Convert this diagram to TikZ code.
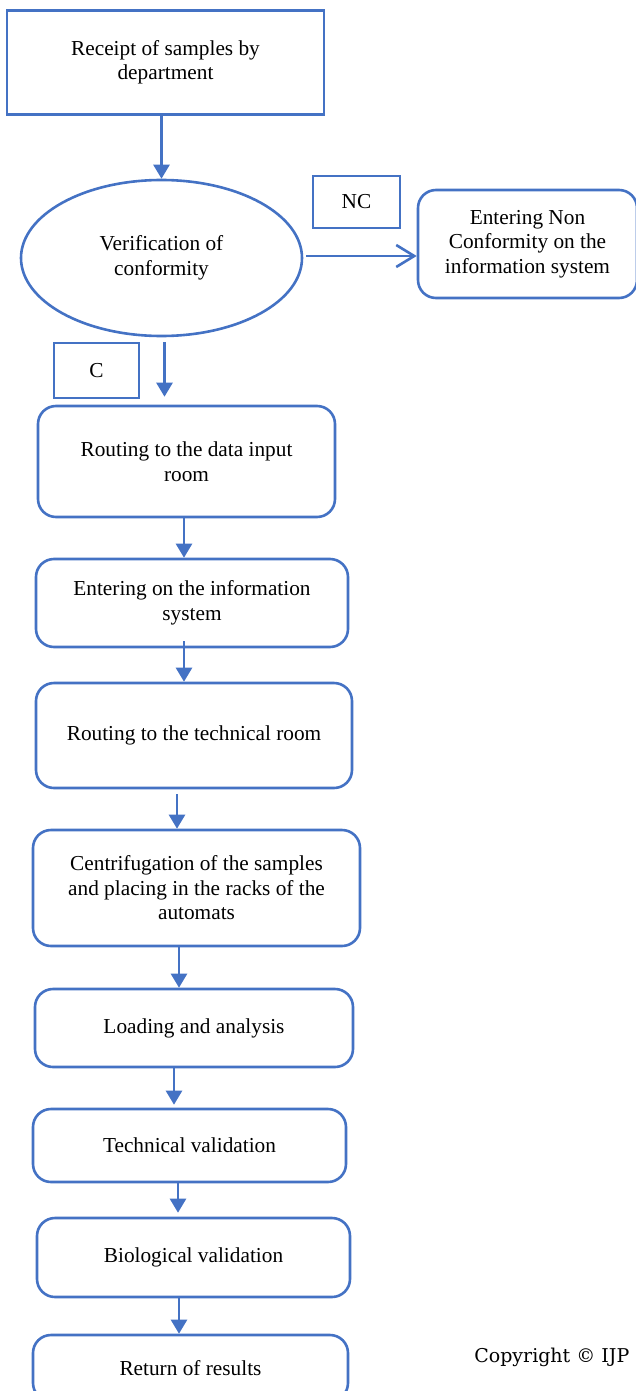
\documentclass[tikz,border=0pt]{standalone}
\usepackage{fontspec}
\setmainfont{Liberation Serif}
\newfontfamily\copyfont{DejaVu Serif}
\usetikzlibrary{shapes.geometric,arrows.meta}
\definecolor{wordblue}{HTML}{4472C4}

\begin{document}
\begin{tikzpicture}[x=1pt, y=-1pt, line width=2.6pt,
		font=\fontsize{21.3}{24.5}\selectfont,
		box/.style={draw=wordblue, rectangle, align=center, inner sep=0pt},
		main/.style={box, rounded corners=18pt},
		check/.style={draw=wordblue, ellipse, align=center, inner sep=0pt},
		arr/.style={draw=wordblue, -{Triangle[length=14pt,width=16pt]}}]
		\useasboundingbox (0,0) rectangle (636,1391);

		\node[box, minimum width=317pt, minimum height=104pt] (recv) at (165.5,62.5) {Receipt of samples by\\department};
		\node[check, minimum width=281pt, minimum height=156pt] (verif) at (161.5,258) {Verification of\\conformity};
		\node[box, minimum width=87pt, minimum height=52pt] (nc) at (356.5,202) {NC};
		\node[main, minimum width=219pt, minimum height=108pt] (ncinfo) at (527.5,244) {Entering Non\\Conformity on the\\information system};
		\node[box, minimum width=85pt, minimum height=55pt] (c) at (96.5,370.5) {C};
		\node[main, minimum width=297pt, minimum height=111pt] (route) at (186.5,461.5) {Routing to the data input\\room};
		\node[main, minimum width=312pt, minimum height=88pt] (enter) at (192,603) {Entering on the information\\system};
		\node[main, minimum width=316pt, minimum height=105pt] (tech) at (194,735.5) {Routing to the technical room};
		\node[main, minimum width=327pt, minimum height=116pt] (centri) at (196.5,888) {Centrifugation of the samples\\and placing in the racks of the\\automats};
		\node[main, minimum width=318pt, minimum height=78pt] (load) at (194,1028) {Loading and analysis};
		\node[main, minimum width=313pt, minimum height=73pt] (techval) at (189.5,1145.5) {Technical validation};
		\node[main, minimum width=313pt, minimum height=79pt] (bioval) at (193.5,1257.5) {Biological validation};
		\node[main, minimum width=315pt, minimum height=66pt] (ret) at (190.5,1368) {Return of results};
		\node[anchor=base west, inner sep=0pt, font=\copyfont\fontsize{19}{22}\selectfont] (copy) at (473,1362) {Copyright © IJP};

		\draw[arr] (verif.north |- recv.south) -- (verif.north);
		\draw[arr, -{Straight Barb[length=18pt,width=22pt]}, shorten <=3pt] ([yshift=2pt]verif.east) -- ([yshift=2pt]verif.east -| ncinfo.west);
		\draw[arr, shorten <=5pt, shorten >=8pt] ([xshift=3pt]verif.south) -- ([xshift=3pt]verif.south |- route.north);
		\draw[arr] ([xshift=-2.5pt]route.south) -- ([xshift=-2.5pt]route.south |- enter.north);
		\draw[arr, shorten <=-7pt] ([xshift=-8pt]enter.south) -- ([xshift=-8pt]enter.south |- tech.north);
		\draw[arr, shorten <=5pt] ([xshift=-17pt]tech.south) -- ([xshift=-17pt]tech.south |- centri.north);
		\draw[arr] ([xshift=-17.5pt]centri.south) -- ([xshift=-17.5pt]centri.south |- load.north);
		\draw[arr, shorten >=3pt] ([xshift=-20pt]load.south) -- ([xshift=-20pt]load.south |- techval.north);
		\draw[arr, shorten >=4pt] ([xshift=-11.5pt]techval.south) -- ([xshift=-11.5pt]techval.south |- bioval.north);
		\draw[arr] ([xshift=-14.5pt]bioval.south) -- ([xshift=-14.5pt]bioval.south |- ret.north);
	\end{tikzpicture}
\end{document}
